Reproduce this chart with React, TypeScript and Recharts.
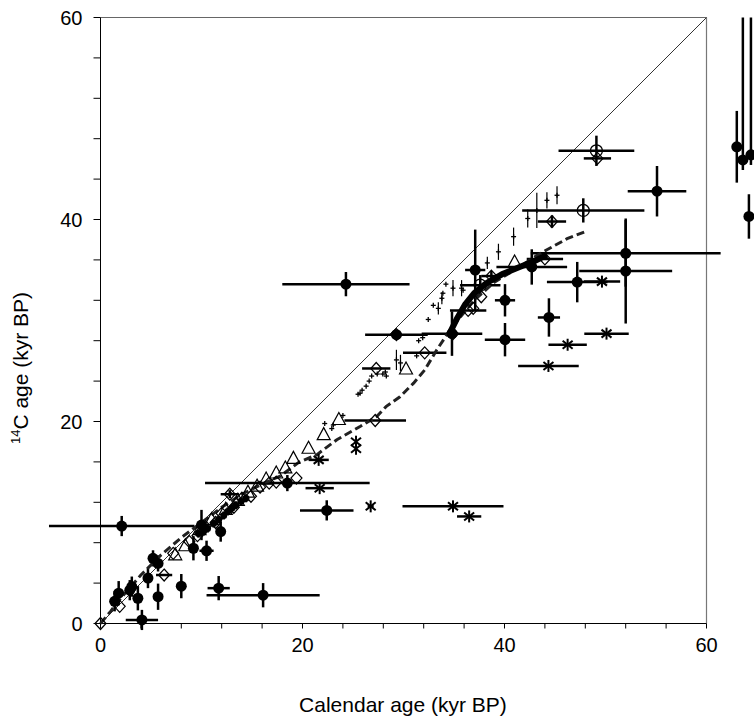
import React from "react";
import {
  ScatterChart,
  Scatter,
  XAxis,
  YAxis,
  ErrorBar,
  ReferenceLine,
} from "recharts";

type Pt = [number, number, number, number | [number, number]];

// [calendar age, 14C age, x error, y error] (kyr BP)
const filledPts: Pt[] = [
  [2.1, 9.65, 7.2, 1.0],
  [4.1, 0.35, 1.6, 1.0],
  [3.7, 2.5, 0, 1.2],
  [5.7, 2.65, 0, 1.3],
  [8.0, 3.7, 0, 1.2],
  [4.7, 4.5, 0, 1.0],
  [5.2, 6.45, 0, 0.8],
  [5.7, 5.95, 0, 0.8],
  [9.2, 7.45, 0, 1.2],
  [10.5, 7.2, 0.7, 1.0],
  [10.0, 9.75, 0, 1.5],
  [11.9, 9.1, 0, 1.0],
  [11.7, 3.5, 1.1, 1.2],
  [16.1, 2.8, 5.6, 1.2],
  [1.4, 2.2, 0, 1.0],
  [1.8, 3.0, 0, 1.2],
  [2.9, 3.3, 0, 1.0],
  [3.1, 3.65, 0, 1.0],
  [18.5, 13.9, 8.15, 0.8],
  [22.4, 11.2, 2.65, 1.0],
  [24.3, 33.6, 6.3, 1.2],
  [29.3, 28.6, 0, 0.4],
  [34.8, 28.7, 3.0, 2.2],
  [37.1, 35.0, 1.0, 4.0],
  [40.05, 32.0, 1.0, 1.6],
  [40.05, 28.1, 2.0, 1.65],
  [42.7, 35.3, 3.5, 1.75],
  [44.4, 30.3, 1.1, 1.9],
  [47.2, 33.8, 3.0, 2.0],
  [52.0, 36.65, 9.4, 3.3],
  [52.0, 34.9, 4.6, 5.2],
  [55.1, 42.8, 2.9, 2.5],
  [63.0, 47.2, 0, 3.55],
  [63.6, 45.9, 0, [1.0, 14.1]],
  [64.4, 46.4, 0, [1.0, 13.6]],
  [64.2, 40.3, 0, 2.2],
];

const smallFilledPts: Pt[] = [
  [9.7, 8.9, 0, 0.4],
  [10.2, 9.1, 0, 0.4],
  [10.6, 9.4, 0, 0.4],
  [11.2, 9.9, 0, 0.4],
  [11.7, 10.3, 0, 0.4],
  [12.2, 10.7, 0, 0.4],
  [12.6, 11.1, 0, 0.4],
  [13.0, 11.4, 0, 0.4],
  [13.4, 11.7, 0, 0.4],
  [13.9, 12.1, 0, 0.4],
  [14.4, 12.4, 0, 0.4],
];

const diamondPts: Pt[] = [
  [0, 0, 0, 0],
  [1.9, 1.7, 0, 0],
  [6.3, 4.8, 0.8, 0],
  [7.2, 6.95, 0, 0],
  [8.8, 8.1, 0, 0],
  [9.6, 8.7, 0, 0],
  [10.4, 9.6, 0, 0],
  [11.4, 10.0, 0, 0],
  [12.0, 10.9, 0, 0],
  [12.8, 12.8, 0.9, 0.4],
  [13.2, 11.5, 0, 0],
  [14.0, 12.4, 0, 0],
  [14.9, 12.6, 0, 0],
  [15.8, 13.5, 0, 0],
  [16.7, 13.9, 0, 0],
  [17.4, 14.0, 0, 0],
  [19.4, 14.4, 0, 0],
  [27.2, 20.1, 3.05, 0],
  [27.3, 25.25, 1.4, 0],
  [29.3, 28.6, 3.1, 0],
  [32.1, 26.8, 2.15, 0],
  [34.9, 28.7, 0, 0],
  [36.4, 31.0, 1.8, 0],
  [36.9, 31.2, 0, 0],
  [37.7, 32.35, 0, 0],
  [38.7, 34.4, 1.0, 0.5],
  [44.0, 36.1, 1.8, 0],
  [44.7, 39.8, 1.4, 0.6],
  [49.2, 46.05, 1.35, 0],
];

const trianglePts: Pt[] = [
  [7.4, 6.8, 0, 0],
  [8.4, 7.7, 0, 0],
  [9.8, 9.3, 0, 0],
  [11.0, 10.3, 0, 0],
  [12.4, 11.3, 0, 0],
  [13.6, 12.2, 0, 0],
  [14.6, 13.0, 0, 0],
  [15.5, 13.6, 0, 0],
  [16.4, 14.3, 0, 0],
  [17.4, 14.9, 0, 0],
  [18.3, 15.4, 0, 0],
  [19.1, 16.35, 0, 0],
  [20.6, 17.35, 0, 0],
  [22.1, 18.7, 0, 0],
  [23.6, 20.2, 0, 0],
  [30.25, 25.2, 0, 0],
  [41.0, 35.8, 0, 0],
];

const circlePts: Pt[] = [
  [49.1, 46.8, 3.75, 1.5],
  [47.8, 40.9, 6.05, 1.2],
  [37.6, 33.5, 2.0, 1.0],
];

const starPts: Pt[] = [
  [21.6, 16.2, 1.0, 0],
  [21.7, 13.4, 1.4, 0],
  [25.3, 18.0, 0, 0],
  [25.3, 17.3, 0, 0],
  [26.75, 11.6, 0.3, 0],
  [34.9, 11.6, 5.0, 0],
  [36.5, 10.6, 1.2, 0],
  [44.35, 25.5, 3.0, 0],
  [46.25, 27.6, 1.9, 0],
  [49.65, 33.85, 1.8, 0],
  [50.1, 28.7, 2.2, 0],
];

const plusPts: Pt[] = [
  [22.2, 19.8, 0, 0],
  [22.9, 19.3, 0, 0],
  [23.05, 19.65, 0, 0],
  [24.0, 20.6, 0, 0],
  [25.5, 22.7, 0, 0],
  [25.7, 22.8, 0, 0],
  [25.9, 23.1, 0, 0],
  [26.3, 23.5, 0, 0],
  [26.6, 24.0, 0, 0],
  [26.85, 24.5, 0, 0],
  [27.4, 24.7, 0, 0],
  [27.95, 24.7, 0, 0],
  [28.2, 24.9, 0, 0],
  [28.3, 24.5, 0, 0],
  [29.3, 26.1, 0, 1.0],
  [29.7, 25.8, 0, 0.8],
  [31.3, 26.5, 0, 0],
  [31.5, 28.0, 0, 0],
  [31.9, 28.3, 0, 0],
  [32.45, 30.1, 0, 0],
  [32.95, 31.5, 0, 0],
  [33.45, 31.2, 0, 0.6],
  [33.8, 32.2, 0, 0.6],
  [33.9, 32.7, 0, 0],
  [34.2, 33.6, 0, 0],
  [34.9, 33.2, 0, 0.8],
  [35.75, 33.2, 0, 0.8],
  [35.9, 33.0, 0, 0],
  [38.3, 35.7, 0, 0.6],
  [39.4, 36.8, 0, 0.8],
  [40.9, 38.3, 0, 0.9],
  [42.3, 40.1, 0, 0.9],
  [43.2, 40.9, 0, 1.75],
  [44.2, 41.9, 0, 0.8],
  [45.2, 42.4, 0, 0.9],
];

// model curves
const dashedCurve: [number, number][] = [
  [0, 0], [1, 1.2], [2, 2.5], [4, 4.8], [6, 6.8], [8, 8.5], [10, 10.0],
  [12, 11.5], [14, 12.8], [16, 13.8], [17.8, 14.6], [19.7, 16.0],
  [21.4, 16.7], [23.4, 18.2], [25.7, 19.5], [27.35, 20.5], [28.3, 21.5],
  [29.65, 22.45], [31.0, 23.8], [32.1, 25.1], [33.3, 27.1], [34.3, 28.6],
  [35.5, 30.2], [37, 32], [39, 33.8], [41, 35.0], [43, 36.3], [44.2, 37.0],
  [46.2, 38.1], [48, 38.8],
];

const thickCurve: [number, number][] = [
  [34.5, 28.6], [35.3, 30.2], [36.1, 31.6], [37, 32.7], [38.2, 33.7],
  [39.8, 34.6], [41.5, 35.3], [43, 35.9], [44.2, 36.5],
];

const ticks = [0, 4, 8, 12, 16, 20, 24, 28, 32, 36, 40, 44, 48, 52, 56, 60];

const toRows = (pts: Pt[]) => pts.map(([x, y, ex, ey]) => ({ x, y, ex, ey }));
const toLine = (pts: [number, number][]) => pts.map(([x, y]) => ({ x, y }));

const FONT = "'Liberation Sans', Arial, Helvetica, sans-serif";

const Filled = (p: any) => <circle cx={p.cx} cy={p.cy} r={5.5} fill="#000" />;
const SmallFilled = (p: any) => <circle cx={p.cx} cy={p.cy} r={3.5} fill="#000" />;
const Diamond = (p: any) => (
  <path
    d={`M${p.cx},${p.cy - 6}L${p.cx + 5.5},${p.cy}L${p.cx},${p.cy + 6}L${p.cx - 5.5},${p.cy}Z`}
    fill="none"
    stroke="#000"
    strokeWidth={1.2}
  />
);
const Triangle = (p: any) => (
  <path
    d={`M${p.cx},${p.cy - 7}L${p.cx + 6.5},${p.cy + 5}L${p.cx - 6.5},${p.cy + 5}Z`}
    fill="none"
    stroke="#000"
    strokeWidth={1.2}
  />
);
const OpenCircle = (p: any) => (
  <circle cx={p.cx} cy={p.cy} r={6} fill="none" stroke="#000" strokeWidth={1.3} />
);
const Star = (p: any) => (
  <g stroke="#000" strokeWidth={2}>
    <line x1={p.cx} y1={p.cy - 6} x2={p.cx} y2={p.cy + 6} />
    <line x1={p.cx - 5} y1={p.cy - 4} x2={p.cx + 5} y2={p.cy + 4} />
    <line x1={p.cx - 5} y1={p.cy + 4} x2={p.cx + 5} y2={p.cy - 4} />
  </g>
);
const Plus = (p: any) => (
  <g stroke="#000" strokeWidth={1.3}>
    <line x1={p.cx - 2.5} y1={p.cy} x2={p.cx + 2.5} y2={p.cy} />
    <line x1={p.cx} y1={p.cy - 2.5} x2={p.cx} y2={p.cy + 2.5} />
  </g>
);
const NoDot = () => <g />;

const YTitle = () => (
  <text
    transform="translate(28,368) rotate(-90)"
    textAnchor="middle"
    fontSize={21}
    fontFamily={FONT}
    fill="#000"
  >
    <tspan fontSize={13} dy={-8}>14</tspan>
    <tspan dy={8}>C age (kyr BP)</tspan>
  </text>
);

const XTitle = () => (
  <text x={403} y={712} textAnchor="middle" fontSize={21} fontFamily={FONT} fill="#000">
    Calendar age (kyr BP)
  </text>
);

const bar = { stroke: "#000", strokeWidth: 2.5, width: 0 };

export default function App() {
  return (
    <div style={{ position: "absolute", left: 0, top: 0, background: "#fff" }}>
      <style>{`.recharts-wrapper [clip-path]{clip-path:none !important}`}</style>
      <ScatterChart
        width={754}
        height={718}
        margin={{ top: 17.5, right: 47.5, bottom: 64.5, left: 40.5 }}
      >
        <XAxis
          type="number"
          dataKey="x"
          domain={[0, 60]}
          allowDataOverflow
          ticks={ticks}
          interval={0}
          tickFormatter={(v: number) => (v % 20 === 0 ? String(v) : "")}
          height={30}
          stroke="#000"
          tickSize={5}
          tickMargin={9}
          tick={{ fill: "#000", fontSize: 20, fontFamily: FONT }}
          label={<XTitle />}
        />
        <YAxis
          type="number"
          dataKey="y"
          domain={[0, 60]}
          allowDataOverflow
          ticks={ticks}
          interval={0}
          tickFormatter={(v: number) => (v % 20 === 0 ? String(v) : "")}
          width={60}
          stroke="#000"
          tickSize={7}
          tickMargin={11}
          tick={{ fill: "#000", fontSize: 20, fontFamily: FONT }}
          label={<YTitle />}
        />
        <ReferenceLine y={60} stroke="#666" strokeWidth={1.2} />
        <ReferenceLine x={60} stroke="#777" strokeWidth={1.2} />
        <ReferenceLine
          segment={[{ x: 0, y: 0 }, { x: 60, y: 60 }]}
          stroke="#333"
          strokeWidth={1}
        />

        <Scatter
          data={toLine(dashedCurve)}
          line={{ stroke: "#222", strokeWidth: 3, strokeDasharray: "8 4" }}
          lineType="joint"
          shape={NoDot}
          isAnimationActive={false}
        />
        <Scatter
          data={toLine(thickCurve)}
          line={{ stroke: "#000", strokeWidth: 6 }}
          lineType="joint"
          shape={NoDot}
          isAnimationActive={false}
        />

        <Scatter data={toRows(plusPts)} shape={Plus} isAnimationActive={false}>
          <ErrorBar dataKey="ey" direction="y" stroke="#000" strokeWidth={1.2} width={0} />
        </Scatter>
        <Scatter data={toRows(trianglePts)} shape={Triangle} isAnimationActive={false} />
        <Scatter data={toRows(diamondPts)} shape={Diamond} isAnimationActive={false}>
          <ErrorBar dataKey="ex" direction="x" {...bar} />
          <ErrorBar dataKey="ey" direction="y" {...bar} />
        </Scatter>
        <Scatter data={toRows(smallFilledPts)} shape={SmallFilled} isAnimationActive={false}>
          <ErrorBar dataKey="ey" direction="y" {...bar} />
        </Scatter>
        <Scatter data={toRows(circlePts)} shape={OpenCircle} isAnimationActive={false}>
          <ErrorBar dataKey="ex" direction="x" {...bar} />
          <ErrorBar dataKey="ey" direction="y" {...bar} />
        </Scatter>
        <Scatter data={toRows(starPts)} shape={Star} isAnimationActive={false}>
          <ErrorBar dataKey="ex" direction="x" {...bar} />
        </Scatter>
        <Scatter data={toRows(filledPts)} shape={Filled} isAnimationActive={false}>
          <ErrorBar dataKey="ex" direction="x" {...bar} />
          <ErrorBar dataKey="ey" direction="y" {...bar} />
        </Scatter>
      </ScatterChart>
    </div>
  );
}
